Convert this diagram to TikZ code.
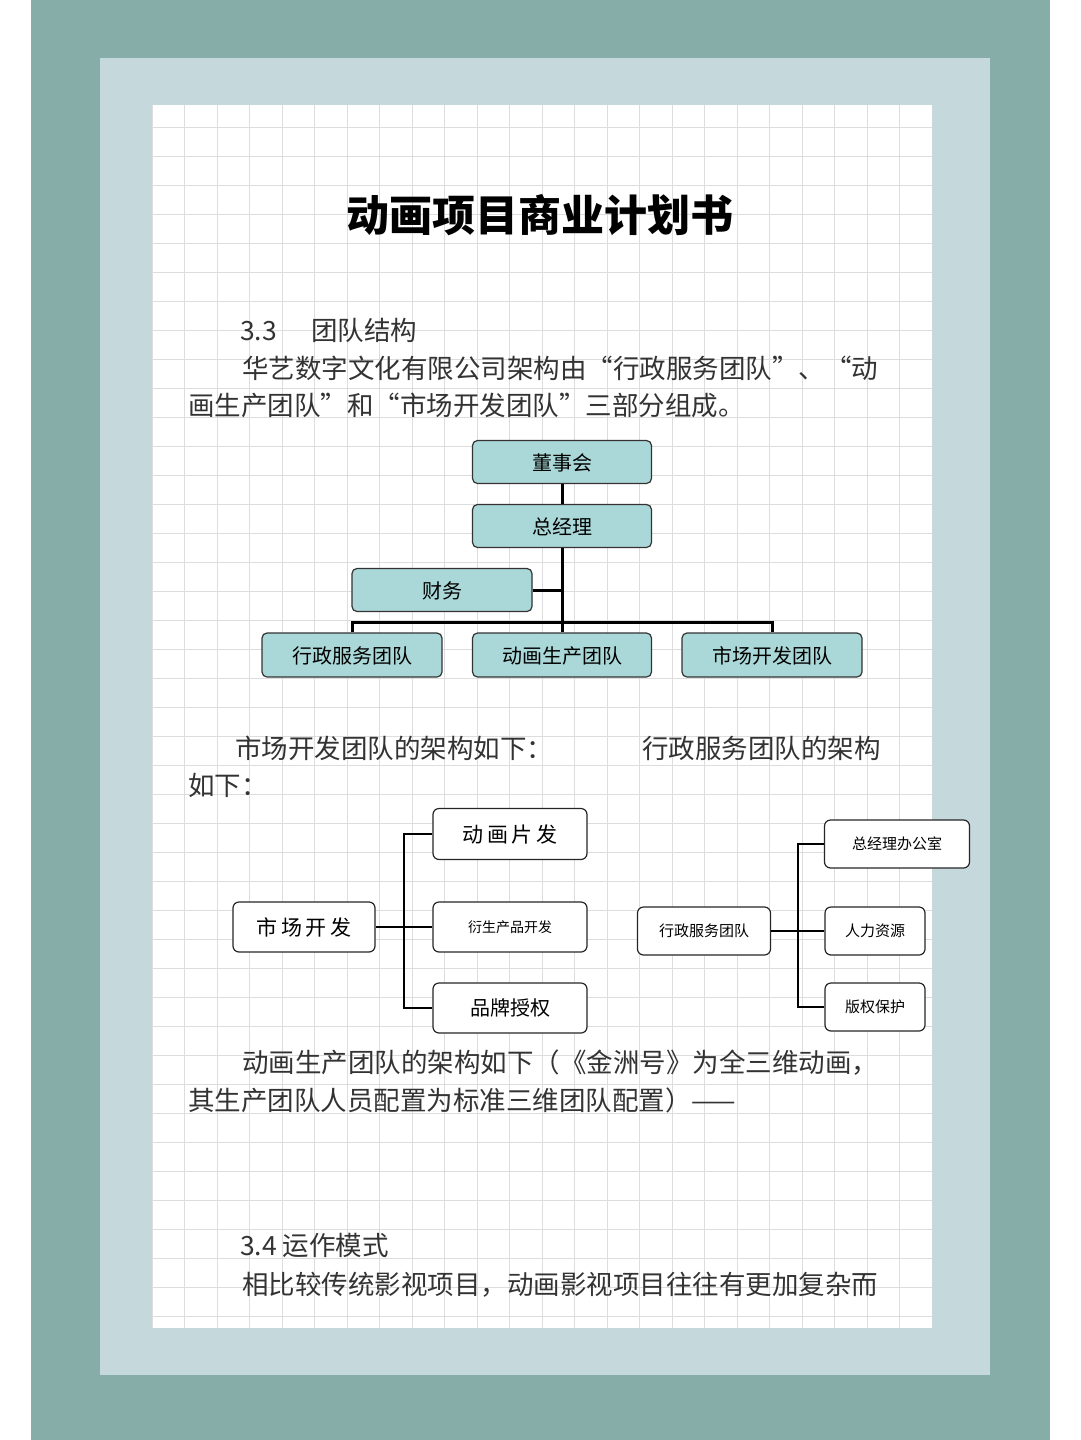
\documentclass[tikz,border=0pt]{standalone}
\usepackage{fontspec}
\newfontfamily\cjk{Noto Sans CJK SC}
\definecolor{teal1}{HTML}{86ADA8}
\definecolor{panel}{HTML}{C5D8DB}
\definecolor{boxfill}{HTML}{AAD8D8}
\definecolor{gridc}{HTML}{DDDDDD}
\definecolor{txt}{HTML}{333333}
\begin{document}
\begin{tikzpicture}[x=1pt,y=-1pt,
  body/.style={anchor=west,inner sep=0pt,font=\cjk\fontsize{26.5}{28}\selectfont,text=txt},
  orgbox/.style={draw=black!80,line width=1.2pt,fill=boxfill,rounded corners=5pt,inner sep=0pt,text depth=-5pt,font=\cjk\fontsize{20}{22}\selectfont},
  wbox/.style={draw=black!85,line width=1.2pt,fill=white,rounded corners=6pt,inner sep=0pt},
  thick line/.style={line width=3pt},
  thin line/.style={line width=1.3pt}]
\useasboundingbox (0,0) rectangle (1080,1440);
\fill[white] (0,0) rectangle (1080,1440);
\fill[teal1] (31,0) rectangle (1050,1440);
\fill[panel] (100,58) rectangle (990,1375);
\fill[white] (152,105) rectangle (932,1328);
\begin{scope}
\clip (152,105) rectangle (932,1328);
\foreach \i in {0,...,24} {\draw[gridc,line width=0.8pt] (152+32.5*\i,105) -- (152+32.5*\i,1328);}
\foreach \j in {0,...,42} {\draw[gridc,line width=0.8pt] (152,127+29*\j) -- (932,127+29*\j);}
\end{scope}
\node[inner sep=0pt,font=\cjk\bfseries\fontsize{43}{46}\selectfont] (title) at (540,215) {动画项目商业计划书};
\node[body] (s33) at (240,330) {3.3\hspace{1.3em}团队结构};
\node[body] (p1) at (242,368) {华艺数字文化有限公司架构由“行政服务团队”、“动};
\node[body] (p2) at (188,405) {画生产团队”和“市场开发团队”三部分组成。};
% org chart
\node[orgbox,minimum width=179,minimum height=43] (dsh) at (562,462) {董事会};
\node[orgbox,minimum width=179,minimum height=43] (zjl) at (562,526) {总经理};
\node[orgbox,minimum width=180,minimum height=43] (cw) at (442,590) {财务};
\node[orgbox,minimum width=180,minimum height=44] (xz) at (352,655) {行政服务团队};
\node[orgbox,minimum width=179,minimum height=44] (dh) at (562,655) {动画生产团队};
\node[orgbox,minimum width=180,minimum height=44] (sc) at (772,655) {市场开发团队};
\coordinate (bar) at (562,622);
\draw[thick line] (dsh.south) -- (zjl.north);
\draw[thick line] (zjl.south) -- (dh.north);
\draw[thick line] (cw.east) -- (cw.east -| zjl.south);
\draw[thick line] (xz.north) |- (bar) -| (sc.north);
% second texts
\node[body] (p3) at (235,748) {市场开发团队的架构如下：};
\node[body] (p4) at (642,748) {行政服务团队的架构};
\node[body] (p5) at (188,785) {如下：};
% market chart
\node[wbox,minimum width=142,minimum height=50,font=\cjk\fontsize{21}{23}\selectfont] (m) at (304,927) {市\,场\,开\,发};
\node[wbox,minimum width=154,minimum height=51,font=\cjk\fontsize{21}{23}\selectfont] (m1) at (510,834) {动\,画\,片\,发};
\node[wbox,minimum width=154,minimum height=50,font=\cjk\fontsize{14}{16}\selectfont] (m2) at (510,927) {衍生产品开发};
\node[wbox,minimum width=154,minimum height=50,font=\cjk\fontsize{20}{22}\selectfont] (m3) at (510,1008) {品牌授权};
\coordinate (mj) at (404,927);
\draw[thin line] (m.east) -- (m2.west);
\draw[thin line] (m1.west) -| (mj) |- (m3.west);
% admin chart
\node[wbox,minimum width=133,minimum height=48,font=\cjk\fontsize{15}{17}\selectfont] (a) at (704,931) {行政服务团队};
\node[wbox,minimum width=145,minimum height=48,font=\cjk\fontsize{15}{17}\selectfont] (a1) at (897,844) {总经理办公室};
\node[wbox,minimum width=100,minimum height=48,font=\cjk\fontsize{15}{17}\selectfont] (a2) at (875,931) {人力资源};
\node[wbox,minimum width=100,minimum height=48,font=\cjk\fontsize{15}{17}\selectfont] (a3) at (875,1007) {版权保护};
\coordinate (aj) at (798,931);
\draw[thin line] (a.east) -- (a2.west);
\draw[thin line] (a1.west) -| (aj) |- (a3.west);
% lower texts
\node[body] (p6) at (242,1063) {动画生产团队的架构如下（《金洲号》为全三维动画，};
\node[body] (p7) at (188,1100) {其生产团队人员配置为标准三维团队配置）——};
\node[body] (s34) at (240,1245) {3.4 运作模式};
\node[body] (p8) at (242,1285) {相比较传统影视项目，动画影视项目往往有更加复杂而};
\end{tikzpicture}
\end{document}
